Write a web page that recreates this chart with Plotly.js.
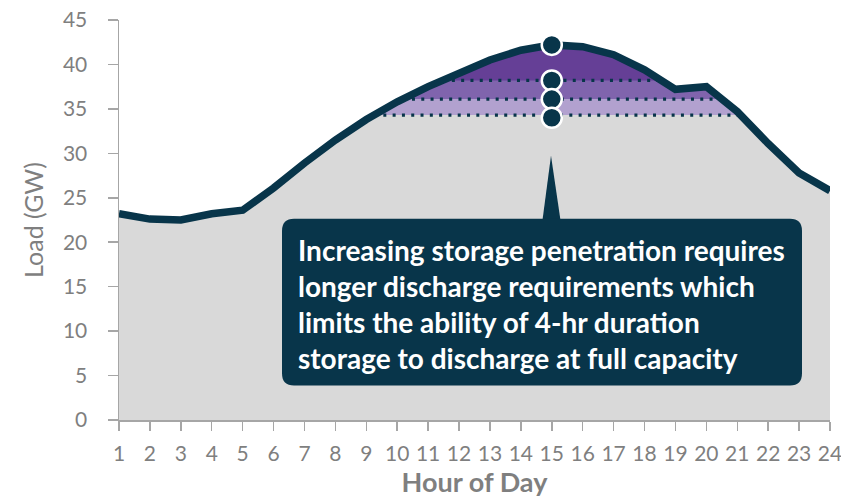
<!DOCTYPE html>
<html><head><meta charset="utf-8">
<script src="https://cdn.plot.ly/plotly-3.0.1.min.js"></script>
<style>body{margin:0;background:#fff}#chart{width:841px;height:500px}</style>
</head><body><div id="chart"></div>
<script>
// ---- data ----
const hours = [1,2,3,4,5,6,7,8,9,10,11,12,13,14,15,16,17,18,19,20,21,22,23,24];
const load = [23.2,22.6,22.5,23.2,23.6,26.1,28.9,31.5,33.8,35.8,37.5,39.0,40.5,41.6,42.2,42.0,41.1,39.4,37.2,37.5,34.7,31.1,27.8,25.8];
const storageLevels = [34.3,36.1,38.2];
const markerHours = [15,15,15,15];
const markerLoads = [42.2,38.2,36.1,34.0];
const yTickVals = [0,5,10,15,20,25,30,35,40,45];
const calloutLines = [
  "Increasing storage penetration requires",
  "longer discharge requirements which",
  "limits the ability of 4-hr duration",
  "storage to discharge at full capacity"
];

// ---- styles ----
const NAVY = "#08354a";
const GREY_TXT = "#7f7f7f";
const AXIS = "#a6a6a6";
const bandColors = ["#d9d9d9","#b2a1cf","#8064ad","#653f96"];
const FONT = "Lato, 'Open Sans', sans-serif";

function clipAt(xs, ys, lvl){
  const ox=[], oy=[];
  for(let i=0;i<xs.length;i++){
    if(i>0){
      const y0=ys[i-1], y1=ys[i];
      if((y0-lvl)*(y1-lvl)<0){
        const t=(lvl-y0)/(y1-y0);
        ox.push(xs[i-1]+t*(xs[i]-xs[i-1])); oy.push(lvl);
      }
    }
    ox.push(xs[i]); oy.push(Math.min(ys[i],lvl));
  }
  return {x:ox,y:oy};
}
function span(xs, ys, lvl){
  const c=[];
  for(let i=1;i<xs.length;i++){
    const y0=ys[i-1], y1=ys[i];
    if((y0-lvl)*(y1-lvl)<0){
      const t=(lvl-y0)/(y1-y0);
      c.push(xs[i-1]+t*(xs[i]-xs[i-1]));
    }
  }
  return [c[0], c[c.length-1]];
}

const traces = [];
traces.push({x:hours,y:load,type:"scatter",mode:"lines",fill:"tozeroy",fillcolor:bandColors[3],line:{width:0},hoverinfo:"skip"});
for(let k=storageLevels.length-1;k>=0;k--){
  const c = clipAt(hours, load, storageLevels[k]);
  traces.push({x:c.x,y:c.y,type:"scatter",mode:"lines",fill:"tozeroy",fillcolor:bandColors[k],line:{width:0},hoverinfo:"skip"});
}
storageLevels.forEach(l=>{
  const s = span(hours, load, l);
  traces.push({x:s,y:[l,l],type:"scatter",mode:"lines",line:{color:NAVY,width:3.2,dash:"3px,6.3px"},hoverinfo:"skip"});
});
traces.push({x:hours,y:load,type:"scatter",mode:"lines",line:{color:NAVY,width:7.5},hoverinfo:"skip"});
traces.push({x:markerHours,y:markerLoads,type:"scatter",mode:"markers",marker:{size:20,color:NAVY,line:{color:"#ffffff",width:2.5}},hoverinfo:"skip"});

// callout geometry in paper coords
const L=119, R=830, T=20, B=420.5;
const px = v => (v-L)/(R-L);
const py = v => (B-v)/(B-T);
const bx0=px(282), bx1=px(802), by0=py(386), by1=py(219);
const rx=12/(R-L), ry=12/(B-T);
const boxPath = `M ${bx0+rx},${by1} L ${bx1-rx},${by1} Q ${bx1},${by1} ${bx1},${by1-ry} L ${bx1},${by0+ry} Q ${bx1},${by0} ${bx1-rx},${by0} L ${bx0+rx},${by0} Q ${bx0},${by0} ${bx0},${by0+ry} L ${bx0},${by1-ry} Q ${bx0},${by1} ${bx0+rx},${by1} Z`;
const triPath = `M ${px(542)},${py(224)} L ${px(551)},${py(156)} L ${px(561)},${py(224)} Z`;

const lineY = [250,286,322,358];
const annotations = calloutLines.map((t,i)=>({
  text:t, xref:"paper", yref:"paper", x:px(296), y:py(lineY[i]), xanchor:"left", yanchor:"middle",
  showarrow:false, font:{family:FONT,size:28,color:"#ffffff",weight:"bold"}
}));

const layout = {
  width:841, height:500,
  margin:{l:L, r:841-R, t:T, b:500-B},
  paper_bgcolor:"#ffffff", plot_bgcolor:"#ffffff",
  showlegend:false,
  xaxis:{range:[1,24], tickvals:hours, ticks:"outside", ticklen:9, tickwidth:1.5, tickcolor:AXIS,
    showline:true, linecolor:AXIS, linewidth:1.5, showgrid:false, zeroline:false,
    tickfont:{family:FONT,size:21,color:GREY_TXT}, ticklabelstandoff:5, ticklabeloverflow:"allow",
    title:{text:"Hour of Day", font:{family:FONT,size:27,color:GREY_TXT,weight:"bold"}, standoff:8}},
  yaxis:{range:[0,45], tickvals:yTickVals, ticks:"outside", ticklen:10, tickwidth:1.5, tickcolor:AXIS,
    showline:true, linecolor:AXIS, linewidth:1.5, showgrid:false, zeroline:false,
    tickfont:{family:FONT,size:21,color:GREY_TXT}, ticklabelstandoff:16,
    title:{text:"Load (GW)", font:{family:FONT,size:25,color:GREY_TXT}, standoff:12}},
  shapes:[
    {type:"path", xref:"paper", yref:"paper", path:triPath, fillcolor:NAVY, line:{width:0}, layer:"above"},
    {type:"path", xref:"paper", yref:"paper", path:boxPath, fillcolor:NAVY, line:{width:0}, layer:"above"}
  ],
  annotations:annotations
};
Plotly.newPlot("chart", traces, layout, {displayModeBar:false, staticPlot:true});
</script></body></html>
